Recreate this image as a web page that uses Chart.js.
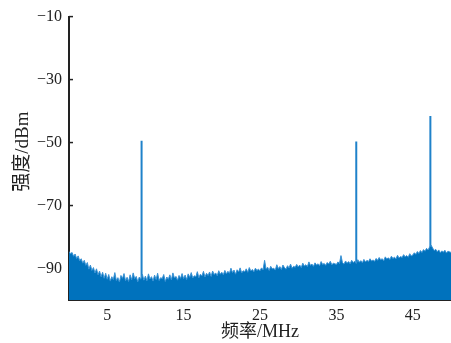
<!DOCTYPE html>
<html lang="zh">
<head>
<meta charset="UTF-8" />
<title>频谱</title>
<script src="https://cdn.jsdelivr.net/npm/chart.js@4.4.1/dist/chart.umd.min.js"></script>
<style>
  body{margin:0;background:#fff;}
  canvas{display:block;}
</style>
</head>
<body>
<canvas id="chart" width="451" height="343"></canvas>
<script>
// noise floor, one value every 0.2 MHz from 0 to 50 MHz
const F_STEP = 0.2;
const noiseDbm = [
  -84.6,-85.3,-84.9,-86.1,-85.4,-86.8,-86.0,-87.5,-86.9,-88.3,-87.4,-89.0,-88.1,-90.2,-88.9,-90.6,-89.7,-91.4,-90.1,-92.0,-90.8,-92.6,-91.2,-93.1,-91.5,
  -93.4,-91.9,-94.0,-92.6,-93.5,-91.3,-93.8,-92.9,-94.3,-92.2,-93.1,-91.6,-93.9,-92.8,-94.1,-92.0,-93.6,-91.4,-93.2,-92.5,-94.2,-92.7,-93.4,-91.8,-93.7,
  -92.4,-93.9,-91.7,-93.3,-92.6,-94.0,-92.1,-93.5,-91.5,-93.8,-92.9,-93.2,-91.9,-94.1,-92.7,-93.4,-92.0,-93.6,-91.4,-93.0,-92.5,-93.7,-92.2,-93.1,-91.6,
  -93.2,-92.1,-93.5,-91.7,-92.8,-91.3,-93.0,-92.3,-92.6,-91.0,-92.9,-91.8,-92.4,-90.9,-92.7,-91.5,-92.2,-91.1,-92.5,-90.8,-91.9,-91.4,-92.3,-90.7,-91.8,
  -91.2,-92.0,-90.6,-91.7,-90.9,-91.5,-89.9,-91.3,-90.5,-91.8,-90.4,-91.1,-89.8,-91.4,-90.7,-91.0,-90.1,-91.2,-89.7,-90.8,-90.3,-91.0,-89.9,-90.6,-90.2,
  -90.7,-89.8,-90.4,-87.4,-90.2,-89.6,-90.6,-89.3,-90.1,-89.9,-90.5,-88.8,-90.0,-89.4,-90.3,-88.9,-89.7,-90.2,-89.1,-89.8,-88.6,-89.9,-89.3,-89.6,-88.7,
  -89.5,-88.9,-89.7,-88.3,-89.2,-88.8,-89.4,-87.9,-89.0,-88.6,-89.3,-88.2,-88.9,-88.5,-89.1,-87.8,-88.7,-88.4,-89.0,-88.1,-88.6,-87.7,-88.8,-88.3,-88.5,
  -88.7,-87.9,-88.4,-85.9,-88.2,-88.6,-87.6,-88.3,-87.8,-88.5,-87.4,-88.1,-87.7,-88.4,-87.2,-88.0,-87.5,-88.2,-87.1,-87.9,-87.4,-87.8,-86.9,-87.6,-87.3,
  -87.7,-86.8,-87.4,-86.5,-87.2,-86.9,-87.5,-86.3,-87.0,-86.6,-87.1,-86.1,-86.8,-86.4,-86.9,-85.8,-86.7,-86.2,-86.5,-85.6,-86.3,-85.9,-86.4,-85.3,-86.0,
  -85.7,-85.0,-85.5,-84.6,-85.2,-84.3,-84.9,-84.0,-84.5,-83.6,-84.1,-83.2,-82.6,-83.5,-84.3,-83.9,-84.7,-84.1,-85.0,-84.4,-84.8,-84.2,-85.1,-84.5,-84.7,
  -84.9
];
const spikeMHz = [9.5, 37.6, 47.3];
const spikeDbm = [-49.4, -49.7, -41.6];
const xTicks = [5, 15, 25, 35, 45];
const yTicks = [-10, -30, -50, -70, -90];

const BLUE = '#0072bd';
const serif = '"Liberation Serif", "Noto Sans CJK SC", serif';

const noisePts = noiseDbm.map((v, i) => ({x: i * F_STEP, y: v}));
const spikePts = [];
spikeMHz.forEach((f, i) => {
  spikePts.push({x: f, y: -100}, {x: f, y: spikeDbm[i]}, {x: f, y: -100});
});

const minus = v => v < 0 ? '\u2212' + Math.abs(v) : String(v);

// short inward tick marks, drawn under the data
const innerTicks = {
  id: 'innerTicks',
  beforeDatasetsDraw(chart){
    const {ctx, chartArea: a, scales: {x, y}} = chart;
    ctx.save();
    ctx.strokeStyle = '#222';
    ctx.lineWidth = 1.5;
    yTicks.forEach(v => {
      const py = y.getPixelForValue(v);
      ctx.beginPath(); ctx.moveTo(a.left, py); ctx.lineTo(a.left + 4, py); ctx.stroke();
    });
    xTicks.forEach(v => {
      const px = x.getPixelForValue(v);
      ctx.beginPath(); ctx.moveTo(px, a.bottom); ctx.lineTo(px, a.bottom - 4); ctx.stroke();
    });
    ctx.restore();
  }
};

new Chart(document.getElementById('chart'), {
  type: 'line',
  data: {
    datasets: [
      {data: noisePts, borderColor: '#3a92d4', borderWidth: 1, backgroundColor: BLUE,
       fill: 'start', pointRadius: 0, tension: 0, order: 0},
      {data: spikePts, borderColor: '#1f82ca', borderWidth: 2, fill: false,
       pointRadius: 0, tension: 0, order: 1}
    ]
  },
  options: {
    responsive: false,
    animation: false,
    devicePixelRatio: 1,
    layout: {padding: {top: 15, right: 0, bottom: 0, left: 0}},
    plugins: {legend: {display: false}, tooltip: {enabled: false}},
    scales: {
      x: {
        type: 'linear', min: 0, max: 50,
        afterBuildTicks: s => { s.ticks = xTicks.map(v => ({value: v})); },
        afterFit: s => { s.height = 43; },
        grid: {drawOnChartArea: false, drawTicks: false},
        border: {color: '#222', width: 2},
        ticks: {color: '#222', font: {family: serif, size: 16}, padding: 6, maxRotation: 0},
        title: {display: true, text: '频率/MHz', color: '#222',
                font: {family: serif, size: 18}, padding: {top: 0, bottom: 0}}
      },
      y: {
        min: -100, max: -10,
        afterBuildTicks: s => { s.ticks = yTicks.map(v => ({value: v})); },
        afterFit: s => { s.width = 69; },
        grid: {drawOnChartArea: false, drawTicks: false},
        border: {color: '#222', width: 2},
        ticks: {color: '#222', font: {family: serif, size: 16}, padding: 7, callback: minus},
        title: {display: true, text: '\u2002\u2009强度/dBm', color: '#222',
                font: {family: serif, size: 19}, padding: {top: 12, bottom: 0}}
      }
    }
  },
  plugins: [innerTicks]
});
</script>
</body>
</html>
